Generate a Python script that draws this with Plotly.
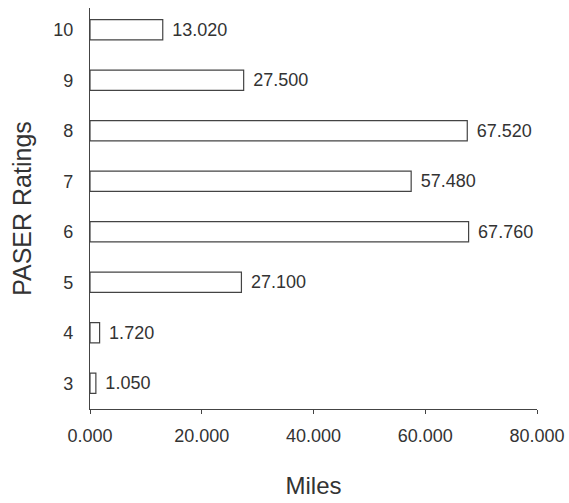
import plotly.graph_objects as go

ratings = [3, 4, 5, 6, 7, 8, 9, 10]
miles = [1.050, 1.720, 27.100, 67.760, 57.480, 67.520, 27.500, 13.020]
x_ticks = [0, 20, 40, 60, 80]
x_tick_labels = ["0.000", "20.000", "40.000", "60.000", "80.000"]

FONT = "Liberation Sans, Arial"

fig = go.Figure(go.Bar(
    x=miles, y=ratings, orientation="h", width=0.4,
    marker=dict(color="white", line=dict(color="#444", width=1.2)),
    text=["\u00a0\u200a" + f"{v:.3f}" for v in miles], textposition="outside",
    textfont=dict(family=FONT, size=18, color="#333"),
    cliponaxis=False,
))

fig.update_layout(
    width=569, height=503,
    margin=dict(l=90, r=32, t=8, b=94),
    plot_bgcolor="white", paper_bgcolor="white",
    font=dict(family=FONT, size=18, color="#333"),
    showlegend=False,
    uniformtext=dict(minsize=18, mode="show"),
    xaxis=dict(
        range=[0, 80], tickvals=x_ticks, ticktext=x_tick_labels, automargin=False,
        showgrid=False, zeroline=False, showline=True, linecolor="#444", linewidth=1.2,
        ticks="outside", ticklen=4, tickcolor="#444", ticklabelstandoff=6,
        tickfont=dict(size=18),
        title=dict(text="Miles", font=dict(size=24, color="#333"), standoff=32),
    ),
    yaxis=dict(
        range=[2.49, 10.43], tickvals=ratings, ticktext=[str(r) for r in ratings],
        automargin=False,
        showgrid=False, zeroline=False, showline=True, linecolor="#444", linewidth=1.2,
        ticks="", ticklabelstandoff=12, tickfont=dict(size=18),
        title=dict(text="PASER Ratings", font=dict(size=25, color="#333"), standoff=14),
    ),
)

fig.write_html(
    "out.html",
    config={"displayModeBar": False},
    post_script="document.body.style.margin='0';document.body.style.overflow='hidden';",
)
